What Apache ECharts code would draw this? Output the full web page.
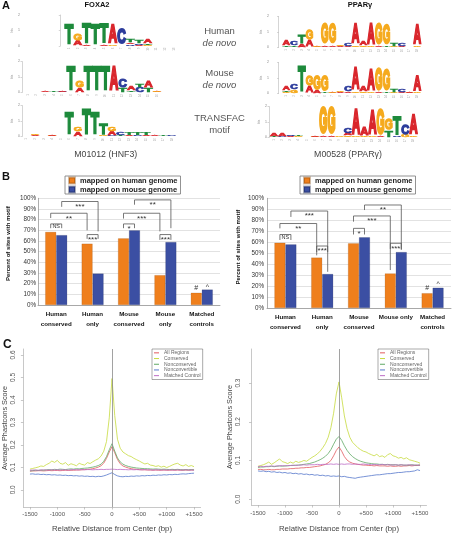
<!DOCTYPE html>
<html><head><meta charset="utf-8">
<script src="https://cdn.jsdelivr.net/npm/echarts@6/dist/echarts.min.js"></script>
<style>html,body{margin:0;padding:0;background:#fff}#c{width:452px;height:534px}</style>
</head><body><div id="c"></div>
<script>
// ================= DATA =================
// Panel A: sequence logos. Each column is stacked bottom -> top as [letter, bits]
const logoFoxa2Human = [
  [['A',0.03],['T',1.40]], [['A',0.35],['G',0.45]], [['A',0.04],['T',1.40]], [['G',0.03],['T',1.40]],
  [['A',0.05],['T',1.32]], [['G',0.04],['A',1.30]], [['A',0.03],['C',1.13]],
  [['C',0.08],['A',0.12],['T',0.22]], [['A',0.08],['C',0.07],['T',0.20]], [['G',0.05],['T',0.10],['A',0.30]],
  [['A',0.02],['T',0.02]], [['C',0.02]], [['G',0.02]]
];
const logoFoxa2Mouse = [
  [['A',0.02],['C',0.02]], [['G',0.03],['A',0.03]], [['C',0.03],['A',0.05]], [['G',0.03],['T',0.05]],
  [['C',0.04],['A',0.06]], [['T',1.68]], [['A',0.30],['G',0.45]], [['T',1.68]], [['T',1.68]], [['T',1.68]],
  [['A',1.72]], [['T',0.25],['C',0.55]], [['T',0.10],['A',0.30]], [['C',0.35],['T',0.22]],
  [['T',0.30],['A',0.45]], [['A',0.04],['G',0.08]]
];
const logoFoxa2Transfac = [
  [['C',0.02],['A',0.03]], [['A',0.05],['G',0.10]], [['T',0.03],['C',0.03]], [['G',0.04],['A',0.08]],
  [['C',0.03],['T',0.03]], [['C',0.02],['T',1.55]], [['A',0.30],['G',0.30]], [['T',1.75]],
  [['G',0.03],['T',1.55]], [['G',0.05],['T',0.80]], [['C',0.05],['A',0.25],['G',0.30]],
  [['T',0.05],['C',0.15]], [['A',0.05],['T',0.15]], [['C',0.05],['T',0.15]], [['A',0.05],['T',0.15]],
  [['A',0.10]], [['T',0.08]], [['C',0.05]]
];
const logoPpargHuman = [
  [['T',0.12],['A',0.35]], [['T',0.10],['C',0.25]], [['A',0.20],['T',0.55]], [['A',0.45],['G',0.65]],
  [['A',0.04],['G',0.04]], [['A',0.12],['G',1.42]], [['A',0.12],['G',1.36]], [['A',0.06],['G',0.12]],
  [['A',0.06],['C',0.15]], [['G',0.12],['A',1.42]], [['G',0.12],['A',0.28]], [['G',0.08],['A',1.46]],
  [['A',0.08],['G',1.52]], [['T',0.08],['G',1.36]], [['G',0.06],['T',0.20]], [['A',0.06],['C',0.20]],
  [['G',0.03],['T',0.03]], [['G',0.08],['A',1.36]]
];
const logoPpargMouse = [
  [['G',0.10],['T',0.10],['A',0.30]], [['G',0.22],['C',0.35]], [['T',1.70]], [['A',0.45],['G',0.68]],
  [['A',0.15],['G',0.98]], [['T',0.08],['G',1.05]], [['A',0.05],['G',0.07]], [['A',0.06],['G',0.10]],
  [['A',0.12],['C',0.35]], [['G',0.12],['A',1.58]], [['G',0.12],['A',0.38]], [['G',0.08],['A',1.48]],
  [['A',0.08],['G',1.62]], [['T',0.08],['G',1.48]], [['G',0.08],['T',0.22]], [['A',0.08],['C',0.22]],
  [['G',0.04],['A',0.04]], [['G',0.08],['A',1.05]]
];
const logoPpargTransfac = [
  [['T',0.05],['A',0.15]], [['C',0.05],['A',0.15]], [['A',0.05],['C',0.12]], [['G',0.06],['T',0.08]],
  [['C',0.03],['A',0.03]], [['G',0.04],['A',0.10]], [['A',0.06],['G',1.90]], [['A',0.06],['G',1.90]],
  [['T',0.03],['G',0.04]], [['G',0.12],['A',0.15],['C',0.35]], [['G',0.05],['A',1.80]], [['G',0.10],['A',0.55]],
  [['G',0.05],['A',1.65]], [['A',0.05],['G',1.80]], [['T',0.45],['G',0.75]], [['C',0.08],['T',1.25]],
  [['G',0.15],['C',0.72]], [['G',0.08],['A',1.40]]
];

// Panel B: percent of sites with motif
const barSeriesNames = ['mapped on human genome', 'mapped on mouse genome'];
const barCatsFoxa2 = ['Human\nconserved', 'Human\nonly', 'Mouse\nconserved', 'Mouse\nonly', 'Matched\ncontrols'];
const barCatsPparg = ['Human\nconserved', 'Human\nonly', 'Mouse\nconserved', 'Mouse only', 'Matched\ncontrols'];
const foxa2HumanPct = [68.5, 57.5, 62.5, 28, 11.5];
const foxa2MousePct = [65.5, 29.5, 70, 59, 14.5];
const ppargHumanPct = [59.5, 46, 59, 31.5, 13.5];
const ppargMousePct = [58, 31, 64.5, 51, 18.5];
// significance brackets: [fromCat, fromBar(0=human,1=mouse), toCat, toBar, top %, left leg end %, right leg end %, label]
const sigFoxa2 = [
  [0,0,0,1,76,72,72,'NS'], [0,0,1,0,86,81.5,70,'**'], [0,1,1,1,97,92,69,'***'], [1,0,1,1,66,62,62,'***'],
  [2,0,2,1,76,72,72,'*'], [2,0,3,0,86,81,69,'***'], [2,1,3,1,98.5,94,72,'**'], [3,0,3,1,66,61,61,'***']
];
const sigPparg = [
  [0,0,0,1,67,62,62,'NS'], [0,0,1,0,77,72.6,48,'**'], [0,1,1,1,88.4,83,33,'***'], [1,0,1,1,56.5,51,51,'***'],
  [2,0,2,1,72.6,67,67,'*'], [2,0,3,0,83.9,78.7,34.6,'***'], [2,1,3,1,93.9,89.3,52.9,'**'], [3,0,3,1,59,53.8,53.8,'***']
];
// single marks: [cat, bar, y %, label]
const markFoxa2 = [[4,0,15.8,'#'], [4,1,18.5,'^']];
const markPparg = [[4,0,18,'#'], [4,1,23.5,'^']];
const pctTicks = [0,10,20,30,40,50,60,70,80,90,100];

// Panel C: average phastCons score vs distance from center
const lineNames = ['All Regions', 'Conserved', 'Nonconserved', 'Nonconvertible', 'Matched Control'];
const distanceBp = [-1500,-1450,-1400,-1350,-1300,-1250,-1200,-1150,-1100,-1050,
  -1000,-950,-900,-850,-800,-750,-700,-650,-600,-550,
  -500,-450,-400,-350,-300,-250,-200,-150,-100,-50, 0,
  50,100,150,200,250,300,350,400,450,500,
  550,600,650,700,750,800,850,900,950,1000,
  1050,1100,1150,1200,1250,1300,1350,1400,1450,1500];
const cTicksX = [-1500,-1000,-500,0,500,1000,1500];
const cTicksYFoxa2 = [0,0.1,0.2,0.3,0.4,0.5,0.6];
const cTicksYPparg = [0,0.1,0.2,0.3];

const foxa2All = [0.083,0.084,0.084,0.085,0.085,0.084,0.085,0.086,0.085,0.086,
  0.086,0.085,0.086,0.087,0.086,0.087,0.087,0.088,0.088,0.089,
  0.090,0.091,0.092,0.094,0.097,0.101,0.107,0.119,0.140,0.168,0.192,
  0.165,0.135,0.116,0.106,0.101,0.097,0.094,0.092,0.091,0.090,
  0.089,0.089,0.088,0.088,0.087,0.088,0.087,0.087,0.088,0.087,
  0.087,0.088,0.087,0.088,0.087,0.087,0.088,0.087,0.088,0.088];
const foxa2Cons = [0.092,0.095,0.098,0.101,0.106,0.104,0.112,0.118,0.128,0.122,
  0.131,0.118,0.114,0.121,0.109,0.116,0.112,0.107,0.118,0.113,
  0.110,0.121,0.117,0.125,0.132,0.138,0.150,0.172,0.215,0.320,0.495,
  0.330,0.225,0.185,0.168,0.160,0.152,0.148,0.140,0.134,0.128,
  0.121,0.115,0.118,0.110,0.108,0.104,0.107,0.101,0.105,0.099,
  0.104,0.110,0.115,0.118,0.110,0.106,0.112,0.104,0.108,0.103];
const foxa2Noncons = [0.084,0.085,0.087,0.086,0.088,0.087,0.089,0.090,0.089,0.091,
  0.090,0.092,0.091,0.090,0.092,0.093,0.092,0.094,0.093,0.095,
  0.096,0.097,0.099,0.101,0.104,0.108,0.114,0.127,0.148,0.178,0.205,
  0.172,0.142,0.124,0.114,0.108,0.104,0.101,0.099,0.097,0.096,
  0.095,0.094,0.094,0.093,0.092,0.093,0.092,0.091,0.092,0.091,
  0.090,0.091,0.090,0.091,0.090,0.089,0.090,0.089,0.090,0.089];
const foxa2Nonconv = [0.070,0.071,0.069,0.070,0.068,0.069,0.067,0.068,0.066,0.067,
  0.065,0.066,0.064,0.065,0.063,0.064,0.062,0.063,0.061,0.062,
  0.060,0.061,0.059,0.060,0.058,0.060,0.059,0.062,0.066,0.071,0.076,
  0.068,0.062,0.059,0.058,0.060,0.059,0.061,0.060,0.062,0.061,
  0.063,0.062,0.064,0.063,0.065,0.064,0.066,0.065,0.067,0.066,
  0.068,0.067,0.069,0.068,0.070,0.071,0.070,0.072,0.073,0.074];
const foxa2Matched = [0.087,0.088,0.088,0.087,0.088,0.089,0.088,0.088,0.089,0.088,
  0.089,0.088,0.089,0.089,0.088,0.089,0.090,0.089,0.089,0.090,
  0.089,0.090,0.090,0.089,0.090,0.090,0.091,0.090,0.091,0.091,0.092,
  0.091,0.090,0.091,0.090,0.090,0.089,0.090,0.089,0.090,0.089,
  0.089,0.090,0.089,0.089,0.088,0.089,0.089,0.088,0.089,0.088,
  0.089,0.088,0.088,0.089,0.088,0.088,0.089,0.088,0.088,0.088];

const ppargAll = [0.077,0.077,0.076,0.076,0.077,0.076,0.076,0.077,0.077,0.078,
  0.078,0.078,0.079,0.079,0.080,0.080,0.081,0.081,0.082,0.082,
  0.083,0.084,0.085,0.086,0.088,0.090,0.094,0.100,0.112,0.126,0.135,
  0.124,0.110,0.101,0.096,0.093,0.091,0.090,0.089,0.088,0.088,
  0.087,0.087,0.086,0.087,0.086,0.086,0.086,0.085,0.086,0.085,
  0.085,0.086,0.085,0.086,0.086,0.087,0.086,0.087,0.087,0.088];
const ppargCons = [0.085,0.087,0.089,0.092,0.096,0.090,0.094,0.099,0.104,0.097,
  0.095,0.092,0.096,0.093,0.098,0.095,0.097,0.100,0.098,0.103,
  0.108,0.112,0.117,0.124,0.133,0.144,0.160,0.185,0.222,0.272,0.303,
  0.262,0.215,0.182,0.160,0.147,0.140,0.133,0.128,0.124,0.122,
  0.118,0.115,0.112,0.116,0.110,0.112,0.108,0.115,0.118,0.112,
  0.110,0.106,0.108,0.104,0.107,0.102,0.100,0.098,0.096,0.093];
const ppargNoncons = [0.082,0.083,0.083,0.084,0.084,0.085,0.084,0.085,0.086,0.085,
  0.086,0.086,0.087,0.087,0.088,0.088,0.089,0.090,0.091,0.092,
  0.094,0.096,0.099,0.102,0.106,0.111,0.118,0.128,0.142,0.155,0.162,
  0.152,0.138,0.126,0.117,0.110,0.105,0.101,0.098,0.096,0.094,
  0.093,0.092,0.091,0.091,0.090,0.090,0.089,0.090,0.089,0.089,
  0.089,0.088,0.089,0.088,0.088,0.088,0.089,0.088,0.088,0.088];
const ppargNonconv = [0.073,0.072,0.073,0.071,0.072,0.070,0.071,0.069,0.070,0.068,
  0.069,0.067,0.068,0.066,0.067,0.065,0.066,0.064,0.065,0.063,
  0.064,0.062,0.063,0.061,0.062,0.060,0.061,0.059,0.060,0.059,0.060,
  0.058,0.059,0.057,0.056,0.055,0.054,0.056,0.057,0.058,0.059,
  0.060,0.061,0.062,0.063,0.063,0.064,0.065,0.066,0.066,0.067,
  0.068,0.069,0.069,0.070,0.071,0.071,0.072,0.073,0.076,0.074];
const ppargMatched = [0.084,0.085,0.084,0.085,0.085,0.086,0.085,0.086,0.086,0.087,
  0.086,0.087,0.087,0.088,0.087,0.088,0.088,0.089,0.088,0.089,
  0.089,0.089,0.090,0.089,0.090,0.090,0.090,0.091,0.090,0.091,0.090,
  0.091,0.090,0.091,0.091,0.090,0.091,0.090,0.090,0.091,0.090,
  0.090,0.089,0.090,0.089,0.089,0.090,0.089,0.089,0.089,0.088,
  0.089,0.088,0.089,0.088,0.088,0.089,0.088,0.088,0.088,0.088];

// ================= STYLE / LAYOUT =================
const FONT = '"Liberation Sans", Arial, Helvetica, sans-serif';
const LETTERS = ['A','C','G','T'];
const LETTER_COLOR = {A:'#d9262c', C:'#2c3c9c', G:'#f5aa1e', T:'#1d8a3b'};
const LETTER_EM = {A:0.722, C:0.722, G:0.778, T:0.611};
const ORANGE = '#ef7f1c', BLUE = '#3b4fa3';
const LINE_COLORS = {'All Regions':'#e2595e','Conserved':'#c6da3e','Nonconserved':'#5fa864','Nonconvertible':'#5677cc','Matched Control':'#bd6cc6'};

const grids = [], xAxes = [], yAxes = [], series = [];
function addGrid(g, x, y) {
  grids.push(g); const gi = grids.length - 1;
  x.gridIndex = gi; y.gridIndex = gi; xAxes.push(x); yAxes.push(y);
  return gi;
}

// ---------- Panel A: logos ----------
const logoLayout = [
  {data: logoFoxa2Human,    axisX: 22,  col1: 69,    pitch: 8.75, base: 46,    top2: 15},
  {data: logoFoxa2Mouse,    axisX: 22,  col1: 28,    pitch: 8.6,  base: 92.5,  top2: 61.5},
  {data: logoFoxa2Transfac, axisX: 22,  col1: 26.6,  pitch: 8.54, base: 136.5, top2: 105.5},
  {data: logoPpargHuman,    axisX: 271, col1: 286.3, pitch: 7.7,  base: 47.5,  top2: 16.5},
  {data: logoPpargMouse,    axisX: 271, col1: 286.3, pitch: 7.7,  base: 93.5,  top2: 62.5},
  {data: logoPpargTransfac, axisX: 269, col1: 274,   pitch: 8.2,  base: 137.5, top2: 106.5}
];
function renderLetter(params, api) {
  const col = api.value(0), y0 = api.value(1), h = api.value(2);
  const L = LETTERS[api.value(3)];
  const pA = api.coord([col - 0.5, y0]), pB = api.coord([col + 0.5, y0 + h]);
  const w = (pB[0] - pA[0]) * 0.98, hp = pA[1] - pB[1];
  if (hp < 0.15) return null;
  const FS = 40;
  const sx = w / (LETTER_EM[L] * FS);
  const thick = Math.min(1.3, w * 0.14);      // extra stroke weight, in screen px (horizontal)
  const lw = thick / sx;                      // same in glyph-local units
  const sy = hp / (0.729 * FS + lw);
  return {
    type: 'text', x: (pA[0] + pB[0]) / 2, y: (pA[1] + pB[1]) / 2 + 0.018 * FS * sy,
    scaleX: sx, scaleY: sy, silent: true,
    style: {text: L, font: 'bold ' + FS + 'px ' + FONT, fill: LETTER_COLOR[L],
            stroke: LETTER_COLOR[L], lineWidth: lw, lineJoin: 'round',
            align: 'center', verticalAlign: 'middle'}
  };
}
logoLayout.forEach(L => {
  const n = L.data.length;
  const right = L.col1 + L.pitch * (n - 1) + L.pitch / 2 + 1;
  const width = right - L.axisX;
  const xmin = 1 - (L.col1 - L.axisX) / L.pitch;
  const xmax = xmin + width / L.pitch;
  const positions = L.data.map((_, i) => i + 1);
  const gi = addGrid({left: L.axisX, top: L.top2, width: width, height: L.base - L.top2},
    {type: 'value', min: xmin, max: xmax, axisLine: {show: false}, axisTick: {show: false}, splitLine: {show: false},
     axisLabel: {customValues: positions, fontSize: 3, color: '#aaa', margin: 1.5, rotate: 90}},
    {type: 'value', min: 0, max: 2, interval: 1,
     axisLine: {show: true, lineStyle: {color: '#aaa', width: 0.5}},
     axisTick: {show: true, length: 1.5, lineStyle: {color: '#aaa', width: 0.5}},
     axisLabel: {fontSize: 3.5, color: '#888', margin: 2}, splitLine: {show: false},
     name: 'bits', nameLocation: 'middle', nameGap: 6, nameTextStyle: {fontSize: 3, color: '#999'}});
  const data = [];
  L.data.forEach((stack, ci) => {
    let y = 0;
    stack.forEach(([letter, h]) => { data.push([ci + 1, y, h, LETTERS.indexOf(letter)]); y += h; });
  });
  series.push({type: 'custom', xAxisIndex: gi, yAxisIndex: gi, renderItem: renderLetter, data: data,
               clip: false, silent: true, z: 3});
});

// ---------- Panel B: bars ----------
const BAR_W = 11;
function barGrid(rect, cats, nameGap, labelMargin, nameShift) {
  return addGrid(rect,
    {type: 'category', data: cats, axisTick: {show: false},
     axisLine: {show: true, lineStyle: {color: '#999', width: 0.8}},
     axisLabel: {interval: 0, fontSize: 6.2, fontWeight: 'bold', color: '#111', lineHeight: 10, margin: 4}},
    {type: 'value', min: 0, max: 100, interval: 10,
     axisLine: {show: true, lineStyle: {color: '#999', width: 0.8}}, axisTick: {show: false},
     splitLine: {show: true, lineStyle: {color: '#cfcfcf', width: 0.6}},
     axisLabel: {customValues: pctTicks, formatter: v => v + '%', fontSize: 6.3, color: '#333', margin: labelMargin},
     name: 'Percent of sites with motif', nameLocation: 'middle', nameGap: nameGap,
     nameTextStyle: {fontSize: 6, fontWeight: 'bold', color: '#111', padding: [0, 0, 0, nameShift]}});
}
function sigRender(sig) {
  return function (params, api) {
    const s = sig[params.dataIndex];
    const [c1, b1, c2, b2, top, l1, l2, label] = s;
    const x1 = api.coord([c1, 0])[0] + (b1 ? BAR_W / 2 : -BAR_W / 2);
    const x2 = api.coord([c2, 0])[0] + (b2 ? BAR_W / 2 : -BAR_W / 2);
    const yt = api.coord([c1, top])[1], y1 = api.coord([c1, l1])[1], y2 = api.coord([c1, l2])[1];
    const isStar = label.indexOf('*') >= 0;
    return {type: 'group', silent: true, children: [
      {type: 'polyline', shape: {points: [[x1, y1], [x1, yt], [x2, yt], [x2, y2]]},
       style: {stroke: '#555', lineWidth: 0.8, fill: null}},
      {type: 'text', x: (x1 + x2) / 2, y: yt + (isStar ? 5.2 : 2.6),
       style: {text: label, font: (isStar ? '8px ' : '5.5px ') + FONT, fill: '#333',
               align: 'center', verticalAlign: 'middle'}}
    ]};
  };
}
function markRender(marks) {
  return function (params, api) {
    const [c, b, y, label] = marks[params.dataIndex];
    const p = api.coord([c, y]);
    return {type: 'text', x: p[0] + (b ? BAR_W / 2 : -BAR_W / 2), y: p[1] + (label === '^' ? 2 : 0), silent: true,
            style: {text: label, font: '7px ' + FONT, fill: '#333', align: 'center', verticalAlign: 'middle'}};
  };
}
function addBars(gi, human, mouse, sig, marks) {
  series.push({type: 'bar', name: barSeriesNames[0], xAxisIndex: gi, yAxisIndex: gi, data: human,
    barWidth: BAR_W, barGap: '0%', itemStyle: {color: ORANGE, borderColor: 'rgba(120,60,0,0.35)', borderWidth: 0.5}});
  series.push({type: 'bar', name: barSeriesNames[1], xAxisIndex: gi, yAxisIndex: gi, data: mouse,
    barWidth: BAR_W, barGap: '0%', itemStyle: {color: BLUE, borderColor: 'rgba(10,20,60,0.35)', borderWidth: 0.5}});
  series.push({type: 'custom', xAxisIndex: gi, yAxisIndex: gi, renderItem: sigRender(sig),
    data: sig.map(s => [s[0], s[4]]), clip: false, silent: true, z: 5});
  series.push({type: 'custom', xAxisIndex: gi, yAxisIndex: gi, renderItem: markRender(marks),
    data: marks.map(m => [m[0], m[2]]), clip: false, silent: true, z: 5});
}
const gB1 = barGrid({left: 38, right: 232, top: 198.3, bottom: 229}, barCatsFoxa2, 27, 2, 16);
addBars(gB1, foxa2HumanPct, foxa2MousePct, sigFoxa2, markFoxa2);
const gB2 = barGrid({left: 267, right: 1, top: 198.3, bottom: 226}, barCatsPparg, 26, 3, 12);
addBars(gB2, ppargHumanPct, ppargMousePct, sigPparg, markPparg);

// ---------- Panel C: lines ----------
const AX_GRAY = {color: '#b0b0b0', width: 0.7};
function lineGrid(rect, ymin, ymax, yTicks, yMargin, yNameGap, xMargin, xNameGap) {
  return addGrid(rect,
    {type: 'value', min: -1620, max: 1620, splitLine: {show: false},
     axisLine: {show: true, onZero: false, lineStyle: AX_GRAY},
     axisTick: {show: true, customValues: cTicksX, length: 2.5, lineStyle: AX_GRAY},
     axisLabel: {customValues: cTicksX, formatter: v => (v > 0 ? '+' + v : String(v)), fontSize: 6, color: '#555', margin: xMargin},
     name: 'Relative Distance from Center (bp)', nameLocation: 'middle', nameGap: xNameGap,
     nameTextStyle: {fontSize: 7.8, color: '#444'}},
    {type: 'value', min: ymin, max: ymax, splitLine: {show: false},
     axisLine: {show: true, onZero: false, lineStyle: AX_GRAY},
     axisTick: {show: true, customValues: yTicks, length: 2.5, lineStyle: AX_GRAY},
     axisLabel: {customValues: yTicks, formatter: v => v.toFixed(1), rotate: 90, fontSize: 6.5, color: '#555', margin: yMargin},
     name: 'Average Phastcons Score', nameLocation: 'middle', nameGap: yNameGap,
     nameTextStyle: {fontSize: 7.3, color: '#444'}});
}
function addLines(gi, arrs) {
  lineNames.forEach((nm, k) => {
    const s = {type: 'line', name: nm, xAxisIndex: gi, yAxisIndex: gi, showSymbol: false, symbol: 'none',
      data: distanceBp.map((x, i) => [x, arrs[k][i]]), color: LINE_COLORS[nm],
      lineStyle: {width: 0.8, color: LINE_COLORS[nm]}, silent: true, z: 3};
    if (k === 0) {
      s.markLine = {silent: true, symbol: 'none', label: {show: false},
        lineStyle: {color: '#8a8a8a', width: 0.8, type: 'solid'}, data: [{xAxis: 0}]};
    }
    series.push(s);
  });
}
const gC1 = lineGrid({left: 23.4, right: 452 - 200.6, top: 349, bottom: 534 - 508},
  -0.0765, 0.6265, cTicksYFoxa2, 6.9, 14.7, 4.7, 18);
addLines(gC1, [foxa2All, foxa2Cons, foxa2Noncons, foxa2Nonconv, foxa2Matched]);
const gC2 = lineGrid({left: 251.5, right: 452 - 426.5, top: 349, bottom: 534 - 505.8},
  -0.015, 0.388, cTicksYPparg, 10, 17.9, 5, 20);
addLines(gC2, [ppargAll, ppargCons, ppargNoncons, ppargNonconv, ppargMatched]);

// ---------- texts ----------
function txt(text, x, y, font, fill, align) {
  return {type: 'text', x: x, y: y, silent: true,
    style: {text: text, font: font + ' ' + FONT, fill: fill || '#222', align: align || 'center', verticalAlign: 'middle'}};
}
const graphics = [
  txt('A', 2, 6, 'bold 11px', '#111', 'left'),
  txt('FOXA2', 97, 5, 'bold 7.5px', '#111'),
  txt('PPARγ', 360, 5, 'bold 7.5px', '#111'),
  txt('Human', 219.5, 31.7, '9.5px', '#555'),
  txt('de novo', 219.5, 43.3, 'italic 9.5px', '#555'),
  txt('Mouse', 219.5, 73.3, '9.5px', '#555'),
  txt('de novo', 219.5, 85, 'italic 9.5px', '#555'),
  txt('TRANSFAC', 219.5, 118.3, '9.5px', '#555'),
  txt('motif', 219.5, 130, '9.5px', '#555'),
  txt('M01012 (HNF3)', 105.7, 155, '8.8px', '#444'),
  txt('M00528 (PPARγ)', 348, 155, '8.8px', '#444'),
  txt('B', 2, 177, 'bold 11px', '#111', 'left'),
  txt('C', 3, 345, 'bold 12px', '#111', 'left')
];

const option = {
  animation: false,
  backgroundColor: '#fff',
  textStyle: {fontFamily: FONT},
  grid: grids, xAxis: xAxes, yAxis: yAxes, series: series,
  legend: [
    {data: barSeriesNames, left: 65, top: 176, orient: 'vertical', icon: 'rect', itemWidth: 6, itemHeight: 6, itemGap: 0,
     padding: [0, 3, 0, 3], borderColor: '#777', borderWidth: 0.8, selectedMode: false,
     textStyle: {fontSize: 7.5, fontWeight: 'bold', color: '#222', lineHeight: 9}},
    {data: barSeriesNames, left: 300, top: 176, orient: 'vertical', icon: 'rect', itemWidth: 6, itemHeight: 6, itemGap: 0,
     padding: [0, 3, 0, 3], borderColor: '#777', borderWidth: 0.8, selectedMode: false,
     textStyle: {fontSize: 7.5, fontWeight: 'bold', color: '#222', lineHeight: 9}},
    {data: lineNames, left: 152, top: 349, orient: 'vertical', icon: 'rect', itemWidth: 5, itemHeight: 1, itemGap: 0,
     padding: [1, 2, 1, 2], borderColor: '#555', borderWidth: 0.5, selectedMode: false,
     textStyle: {fontSize: 5, color: '#666', lineHeight: 5.7}},
    {data: lineNames, left: 378, top: 349, orient: 'vertical', icon: 'rect', itemWidth: 5, itemHeight: 1, itemGap: 0,
     padding: [1, 2, 1, 2], borderColor: '#555', borderWidth: 0.5, selectedMode: false,
     textStyle: {fontSize: 5, color: '#666', lineHeight: 5.7}}
  ],
  graphic: graphics
};
const chart = echarts.init(document.getElementById('c'), null, {renderer: 'canvas', width: 452, height: 534});
chart.setOption(option);
</script>
</body></html>
